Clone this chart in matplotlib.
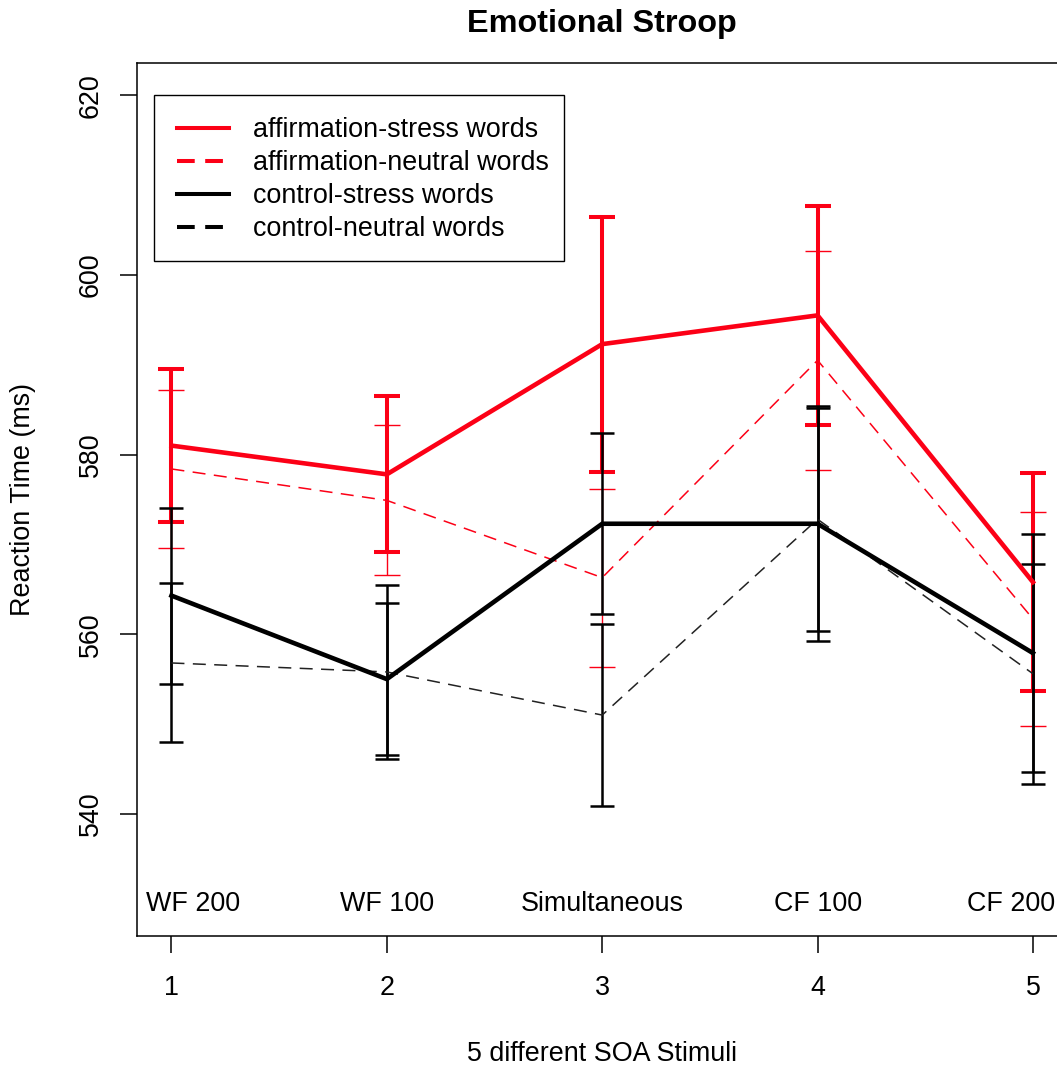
import matplotlib
matplotlib.use("Agg")
import matplotlib.pyplot as plt
from matplotlib.lines import Line2D
from matplotlib.patches import Rectangle

plt.rcParams['font.family'] = ['Liberation Sans', 'DejaVu Sans']

# ---------------- data ----------------
soa = [1, 2, 3, 4, 5]
stimulus_labels = ["WF 200", "WF 100", "Simultaneous", "CF 100", "CF 200"]
stimulus_label_x = [1.1, 2, 3, 4, 4.9]
series_names = ["affirmation-stress words", "affirmation-neutral words",
                "control-stress words", "control-neutral words"]

aff_stress = [581.0, 577.8, 592.3, 595.5, 565.8]
aff_stress_err = [8.5, 8.7, 14.2, 12.15, 12.1]
aff_neutral = [578.4, 574.9, 566.3, 590.5, 561.7]
aff_neutral_err = [8.8, 8.35, 9.9, 12.2, 11.95]
ctrl_stress = [564.3, 555.0, 572.3, 572.3, 557.9]
ctrl_stress_err = [9.8, 8.5, 10.1, 13.1, 13.25]
ctrl_neutral = [556.8, 555.8, 551.0, 572.8, 555.6]
ctrl_neutral_err = [8.85, 9.65, 10.1, 12.4, 12.25]

y_ticks = [540, 560, 580, 600, 620]
x_ticks = [1, 2, 3, 4, 5]

RED = '#fc0016'
FS = 19.4

fig = plt.figure(figsize=(10.57, 10.65), dpi=100)
ax = fig.add_axes([137 / 1057, 129 / 1065, 930.4 / 1057, 873 / 1065])

# error bars
ax.errorbar(soa, aff_stress, yerr=aff_stress_err, fmt='none', ecolor=RED,
            elinewidth=2.9, capsize=9.4, capthick=2.9, zorder=2)
ax.errorbar(soa, aff_neutral, yerr=aff_neutral_err, fmt='none', ecolor=RED,
            elinewidth=1.0, capsize=9.4, capthick=1.0, zorder=2)
ax.errorbar(soa, ctrl_stress, yerr=ctrl_stress_err, fmt='none', ecolor='black',
            elinewidth=1.8, capsize=8.8, capthick=1.8, zorder=3)
ax.errorbar(soa, ctrl_neutral, yerr=ctrl_neutral_err, fmt='none', ecolor='black',
            elinewidth=1.8, capsize=8.8, capthick=1.8, zorder=3)

# lines
ax.plot(soa, aff_neutral, color=RED, lw=1.1, ls=(0, (8.5, 5.5)), zorder=4)
ax.plot(soa, aff_stress, color=RED, lw=3.3, solid_joinstyle='miter', zorder=5)
ax.plot(soa, ctrl_neutral, color='#222222', lw=1.1, ls=(0, (8.5, 5.5)), zorder=4)
ax.plot(soa, ctrl_stress, color='black', lw=3.3, solid_joinstyle='miter', zorder=5)

# category labels inside the plot
for xp, lab in zip(stimulus_label_x, stimulus_labels):
    ax.text(xp, 530, lab, ha='center', va='center', fontsize=FS, clip_on=False)

ax.set_xlim(0.84, 5.16)
ax.set_ylim(526.4, 623.6)
ax.set_xticks(x_ticks)
ax.set_yticks(y_ticks)
ax.tick_params(axis='both', length=12.5, width=1.1, labelsize=FS, color='black')
ax.tick_params(axis='x', pad=15.5)
ax.tick_params(axis='y', pad=11.5)
for lab in ax.get_yticklabels():
    lab.set_rotation(90)
    lab.set_va('center')
for sp in ax.spines.values():
    sp.set_linewidth(1.1)

# legend
handles = [
    Line2D([], [], color=RED, lw=2.9),
    Line2D([], [], color=RED, lw=2.9, ls=(0, (4.4, 2.6))),
    Line2D([], [], color='black', lw=2.9),
    Line2D([], [], color='black', lw=2.9, ls=(0, (4.4, 2.6))),
]
ax.legend(handles, series_names, loc='upper left',
          bbox_to_anchor=((177 - 137) / 930.4, 1 - (117 - 63) / 873),
          borderaxespad=0, borderpad=0, frameon=False, fontsize=FS,
          handlelength=52 / 27, handletextpad=24 / 27, labelspacing=0.26)
ax.add_patch(Rectangle(((154 - 137) / 930.4, 1 - (261 - 63) / 873),
                       (564 - 154) / 930.4, (261 - 95) / 873,
                       transform=ax.transAxes, fill=False, edgecolor='black',
                       lw=1.0, zorder=6))

fig.text(602 / 1057, 1 - 24 / 1065, "Emotional Stroop", ha='center', va='center',
         fontsize=FS * 1.2, fontweight='bold')
fig.text(602 / 1057, 1 - 1054 / 1065, "5 different SOA Stimuli", ha='center',
         va='center', fontsize=FS)
fig.text(23 / 1057, 1 - 500 / 1065, "Reaction Time (ms)", ha='center', va='center',
         rotation=90, fontsize=FS)

fig.savefig("out.png", dpi=100)
